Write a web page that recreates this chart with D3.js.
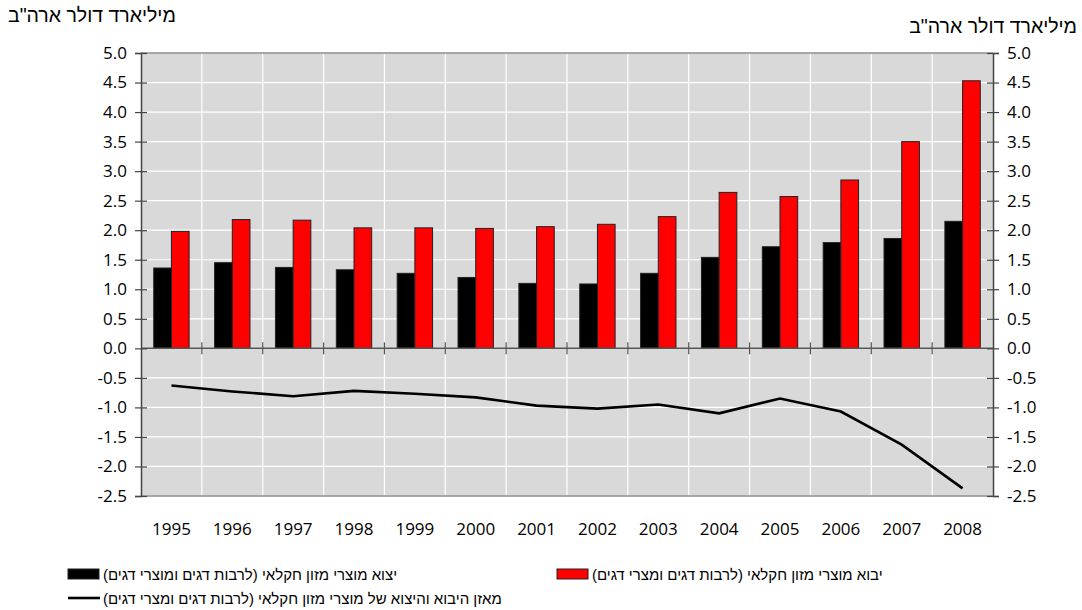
<!DOCTYPE html>
<html>
<head>
<meta charset="utf-8">
<script src="https://cdn.jsdelivr.net/npm/d3@7"></script>
<style>
  body { margin: 0; background: #fff; }
  svg { display: block; font-family: 'Open Sans', 'Liberation Sans', sans-serif; }
  .heb { font-family: 'Liberation Sans', 'DejaVu Sans', sans-serif; }
</style>
</head>
<body>
<div id="chart"></div>
<script>
// data
const years = ['1995', '1996', '1997', '1998', '1999', '2000', '2001', '2002', '2003', '2004', '2005', '2006', '2007', '2008'];
const exportsVals = [1.36, 1.45, 1.37, 1.33, 1.27, 1.20, 1.10, 1.09, 1.27, 1.54, 1.72, 1.79, 1.86, 2.15];
const importsVals = [1.98, 2.18, 2.17, 2.04, 2.04, 2.03, 2.06, 2.10, 2.23, 2.64, 2.57, 2.85, 3.50, 4.53];
const balanceVals = [-0.63, -0.73, -0.81, -0.72, -0.77, -0.83, -0.97, -1.02, -0.95, -1.10, -0.85, -1.07, -1.63, -2.37];
const yTicks = [-2.5, -2.0, -1.5, -1.0, -0.5, 0, 0.5, 1.0, 1.5, 2.0, 2.5, 3.0, 3.5, 4.0, 4.5, 5.0];

const unitLabel = 'מיליארד דולר ארה"ב';
const exportLabel = 'יצוא מוצרי מזון חקלאי (לרבות דגים ומוצרי דגים)';
const importLabel = 'יבוא מוצרי מזון חקלאי (לרבות דגים ומצרי דגים)';
const balanceLabel = 'מאזן היבוא והיצוא של מוצרי מזון חקלאי (לרבות דגים ומצרי דגים)';

const W = 1082, H = 610;
const plot = { left: 141, right: 993, top: 53, bottom: 496 };

const svg = d3.select('#chart').append('svg')
  .attr('width', W)
  .attr('height', H);

const x = d3.scaleBand().domain(years).range([plot.left, plot.right]).padding(0);
const xSub = d3.scaleBand().domain(['exp', 'imp']).range([0, x.bandwidth()]).paddingInner(0).paddingOuter(0.72);
const y = d3.scaleLinear().domain([-2.5, 5]).range([plot.bottom, plot.top]);

// plot background
svg.append('rect')
  .attr('x', plot.left).attr('y', plot.top)
  .attr('width', plot.right - plot.left).attr('height', plot.bottom - plot.top)
  .attr('fill', '#d9d9d9');

// gridlines
svg.append('g').selectAll('line')
  .data(yTicks)
  .join('line')
  .attr('x1', plot.left).attr('x2', plot.right)
  .attr('y1', d => y(d)).attr('y2', d => y(d))
  .attr('stroke', '#fff').attr('stroke-width', 1.2);

svg.append('g').selectAll('line')
  .data(years.slice(1))
  .join('line')
  .attr('x1', d => x(d)).attr('x2', d => x(d))
  .attr('y1', plot.top).attr('y2', plot.bottom)
  .attr('stroke', '#fff').attr('stroke-width', 1.2);

// top and bottom frame
svg.append('line')
  .attr('x1', plot.left).attr('x2', plot.right)
  .attr('y1', plot.top).attr('y2', plot.top)
  .attr('stroke', '#8c8c8c').attr('stroke-width', 1.5);
svg.append('line')
  .attr('x1', plot.left).attr('x2', plot.right)
  .attr('y1', plot.bottom).attr('y2', plot.bottom)
  .attr('stroke', '#8c8c8c').attr('stroke-width', 1.5);

// bars
const groups = svg.append('g').selectAll('g')
  .data(years)
  .join('g')
  .attr('transform', d => `translate(${x(d)},0)`);

groups.append('rect')
  .attr('x', xSub('exp'))
  .attr('width', xSub.bandwidth())
  .attr('y', (d, i) => y(exportsVals[i]))
  .attr('height', (d, i) => y(0) - y(exportsVals[i]))
  .attr('fill', '#000')
  .attr('stroke', '#222').attr('stroke-width', 1);

groups.append('rect')
  .attr('x', xSub('imp'))
  .attr('width', xSub.bandwidth())
  .attr('y', (d, i) => y(importsVals[i]))
  .attr('height', (d, i) => y(0) - y(importsVals[i]))
  .attr('fill', '#ff0000')
  .attr('stroke', '#222').attr('stroke-width', 1);

// zero axis with crossing ticks
svg.append('line')
  .attr('x1', plot.left).attr('x2', plot.right)
  .attr('y1', y(0)).attr('y2', y(0))
  .attr('stroke', '#555').attr('stroke-width', 1.5);
svg.append('g').selectAll('line')
  .data(years.slice(1))
  .join('line')
  .attr('x1', d => x(d)).attr('x2', d => x(d))
  .attr('y1', y(0) - 6).attr('y2', y(0) + 6)
  .attr('stroke', '#555').attr('stroke-width', 1.2);

// balance line
const line = d3.line()
  .x((d, i) => x(years[i]) + x.bandwidth() / 2)
  .y(d => y(d));
svg.append('path')
  .datum(balanceVals)
  .attr('d', line)
  .attr('fill', 'none')
  .attr('stroke', '#000')
  .attr('stroke-width', 2.6);

// y axes
const fmt = d => d.toFixed(1);
const leftAxis = svg.append('g')
  .attr('transform', `translate(${plot.left},0)`)
  .call(d3.axisLeft(y).tickValues(yTicks).tickFormat(fmt).tickSize(6).tickPadding(10));
const rightAxis = svg.append('g')
  .attr('transform', `translate(${plot.right},0)`)
  .call(d3.axisRight(y).tickValues(yTicks).tickFormat(fmt).tickSize(6).tickPadding(10));

[leftAxis, rightAxis].forEach(ax => {
  ax.select('.domain').attr('stroke', '#444').attr('stroke-width', 1.5);
  ax.selectAll('.tick line').attr('x1', -6).attr('x2', 6).attr('stroke', '#444').attr('stroke-width', 1.2);
  ax.selectAll('.tick text').attr('font-size', 17).attr('fill', '#000')
    .attr('font-family', "'Open Sans', sans-serif");
});
leftAxis.selectAll('.tick text').attr('x', -14);
rightAxis.selectAll('.tick text').attr('x', 14);

// year labels
svg.append('g').selectAll('text')
  .data(years)
  .join('text')
  .attr('x', d => x(d) + x.bandwidth() / 2)
  .attr('y', 535)
  .attr('text-anchor', 'middle')
  .attr('font-size', 17)
  .text(d => d);

// unit labels
svg.append('text')
  .attr('class', 'heb')
  .attr('x', 8).attr('y', 22)
  .attr('direction', 'rtl').attr('text-anchor', 'end')
  .attr('font-size', 19.5)
  .text(unitLabel);
svg.append('text')
  .attr('class', 'heb')
  .attr('x', 1077).attr('y', 33)
  .attr('direction', 'rtl').attr('text-anchor', 'start')
  .attr('font-size', 19.5)
  .text(unitLabel);

// legend
const legend = svg.append('g').attr('class', 'heb').attr('font-size', 15);

legend.append('rect')
  .attr('x', 68).attr('y', 569).attr('width', 31).attr('height', 10)
  .attr('fill', '#000').attr('stroke', '#222');
legend.append('text')
  .attr('x', 103).attr('y', 580)
  .attr('direction', 'rtl').attr('text-anchor', 'end')
  .text(exportLabel);

legend.append('rect')
  .attr('x', 557).attr('y', 569).attr('width', 31).attr('height', 10)
  .attr('fill', '#ff0000').attr('stroke', '#222');
legend.append('text')
  .attr('x', 592).attr('y', 580)
  .attr('direction', 'rtl').attr('text-anchor', 'end')
  .text(importLabel);

legend.append('line')
  .attr('x1', 68).attr('x2', 100).attr('y1', 598).attr('y2', 598)
  .attr('stroke', '#000').attr('stroke-width', 2.6);
legend.append('text')
  .attr('x', 103).attr('y', 604)
  .attr('direction', 'rtl').attr('text-anchor', 'end')
  .text(balanceLabel);
</script>
</body>
</html>
